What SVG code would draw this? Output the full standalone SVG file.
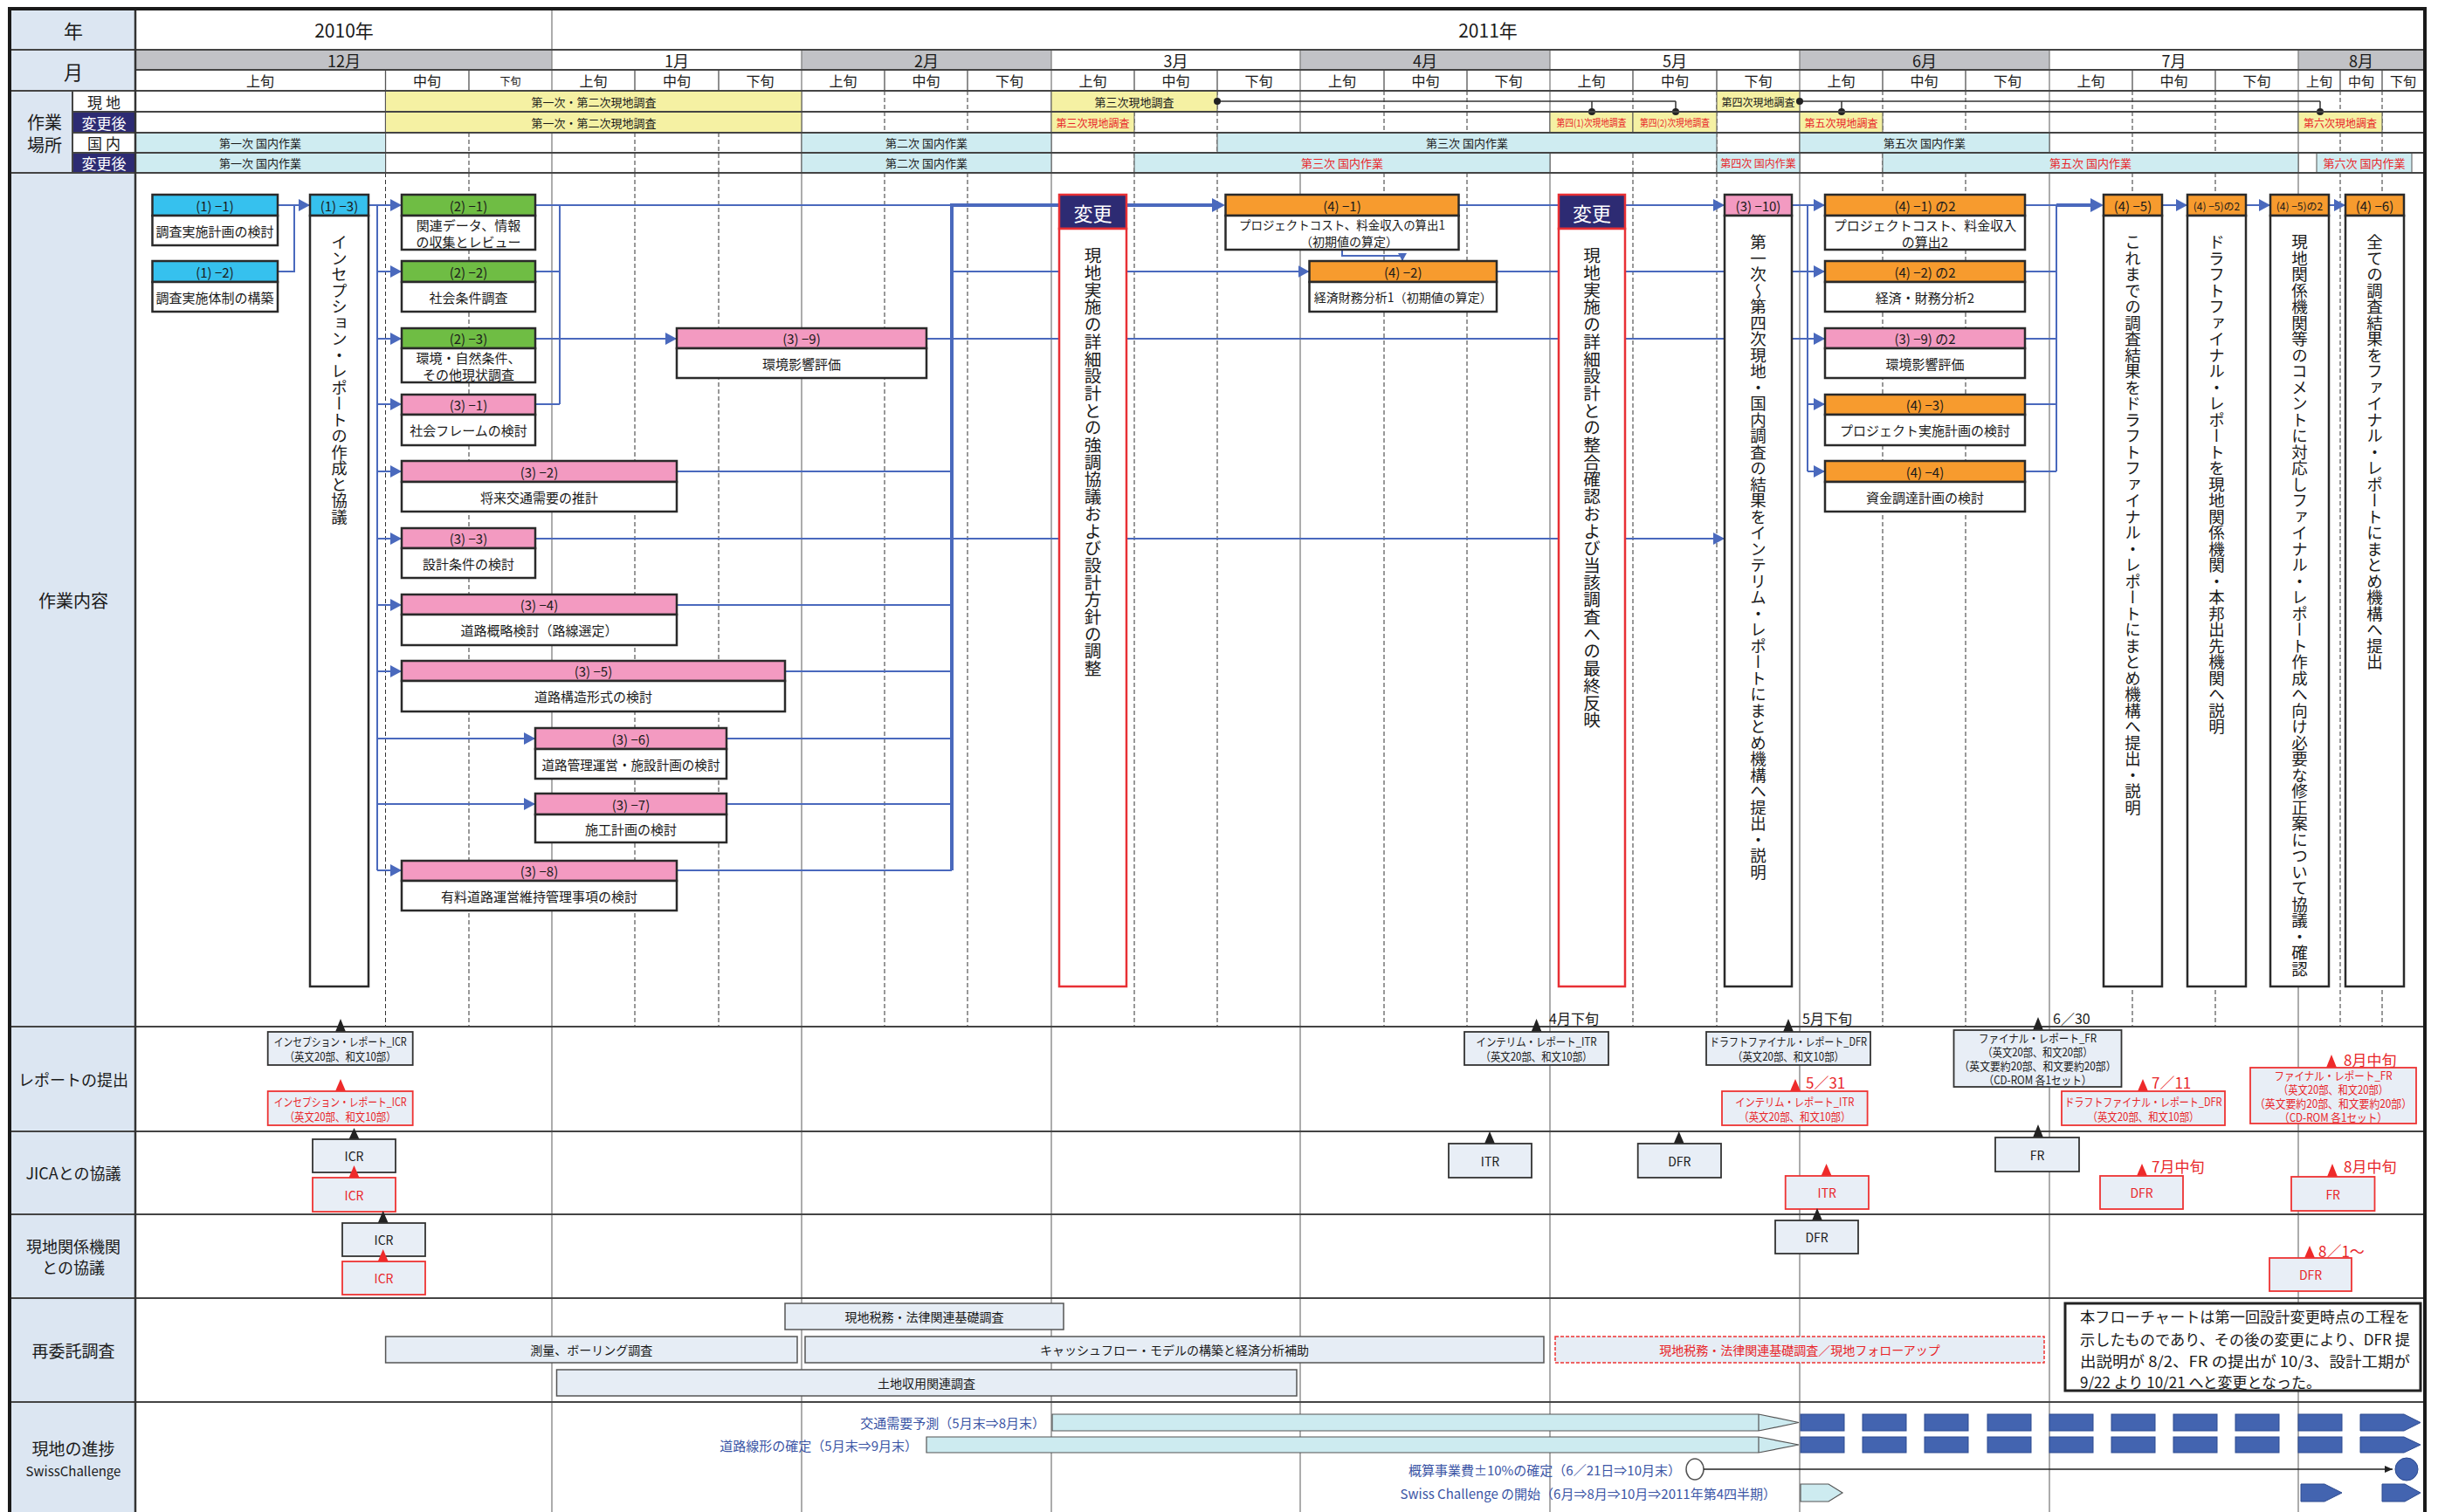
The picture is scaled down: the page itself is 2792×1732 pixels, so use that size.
<svg xmlns="http://www.w3.org/2000/svg" width="2792" height="1732" viewBox="0 0 2792 1732">
<defs>
<style>
text{font-family:"Noto Sans CJK JP","Noto Sans CJK SC","Noto Sans",sans-serif;fill:#1a1a1a;dominant-baseline:central;text-anchor:middle;font-size:15px}
.vt{writing-mode:vertical-rl;text-anchor:start;font-size:18.5px}
.vc{writing-mode:vertical-rl;text-anchor:start;font-size:19.7px}
.red{fill:#e8262a}
.blu{fill:#3b55a5}
.wt{fill:#fff}
.st{text-anchor:start}
.en{text-anchor:end}
.f11{font-size:11px}.f12{font-size:12px}.f13{font-size:13px}.f14{font-size:14px}.f16{font-size:16px}.f17{font-size:17px}.f18{font-size:18px}.f19{font-size:19px}.f20{font-size:20px}.f21{font-size:21px}.f22{font-size:22px}
.bx{stroke:#2a2a2a;stroke-width:2.5}
.cy{fill:#36c1ee}.gr{fill:#6fbd44}.pk{fill:#f39ac1}.or{fill:#f79b2e}.nv{fill:#2d2b73}.wb{fill:#fff}
.rb{stroke:#e83035;stroke-width:2.5}
.ln{fill:none;stroke:#4a69bd;stroke-width:2}
.lt{fill:none;stroke:#4a69bd;stroke-width:4}
.gm{stroke:#808080;stroke-width:1.3}
.gs{stroke:#555;stroke-width:1.3}
.gd{stroke:#333;stroke-width:1;stroke-dasharray:5 3}
.hl{stroke:#444;stroke-width:2}
.ye{fill:#f5f1a3;stroke:#555;stroke-width:1}
.ce{fill:#cfecf1;stroke:#555;stroke-width:1}
.rp{fill:#e8eef6;stroke:#333;stroke-width:1.8}
.rr{fill:#e8eef6;stroke:#ee3333;stroke-width:1.8}
.tb{fill:#222}.tr{fill:#ee2a2a}
.sb{fill:#e6edf5;stroke:#555;stroke-width:1.5}
.sr{fill:#e6edf5;stroke:#ee3333;stroke-width:1.5;stroke-dasharray:4 2}
.bar{fill:#cdebf0;stroke:#555;stroke-width:1.2}
.blk{fill:#4364b0;stroke:#2c4a90;stroke-width:1}
</style>
<marker id="ar" markerUnits="userSpaceOnUse" markerWidth="14" markerHeight="14" refX="13" refY="7" orient="auto" viewBox="0 0 14 14"><path d="M0,0 L13,7 L0,14 z" fill="#4a69bd"/></marker>
<marker id="art" markerUnits="userSpaceOnUse" markerWidth="16" markerHeight="16" refX="11" refY="8" orient="auto" viewBox="0 0 16 16"><path d="M0,0 L15,8 L0,16 z" fill="#4a69bd"/></marker>
<marker id="ars" markerUnits="userSpaceOnUse" markerWidth="10" markerHeight="10" refX="9" refY="5" orient="auto" viewBox="0 0 10 10"><path d="M0,0 L9,5 L0,10 z" fill="#4a69bd"/></marker>
<marker id="ark" markerUnits="userSpaceOnUse" markerWidth="10" markerHeight="10" refX="9" refY="5" orient="auto" viewBox="0 0 10 10"><path d="M0,1 L9,5 L0,9 z" fill="#222"/></marker>
</defs>

<g id="grid">
<rect x="0" y="0" width="2792" height="1732" fill="#fff"/>
<rect x="13" y="10" width="142" height="1722" fill="#dce6f2"/>
<rect x="83" y="104" width="72" height="24" fill="#fff"/>
<rect x="83" y="128" width="72" height="24" fill="#2d2b73"/>
<rect x="83" y="152" width="72" height="23" fill="#fff"/>
<rect x="83" y="175" width="72" height="23" fill="#2d2b73"/>
<g fill="#c1c2c6">
<rect x="155" y="57" width="477" height="23"/><rect x="918" y="57" width="286" height="23"/><rect x="1489" y="57" width="286" height="23"/><rect x="2061" y="57" width="286" height="23"/><rect x="2632" y="57" width="144" height="23"/>
</g>
<g class="gd">
<path d="M537,104V198M727,104V198M823,104V198M1013,104V198M1108,104V198M1299,104V198M1394,104V198M1585,104V198M1680,104V198M1870,104V198M1966,104V198M2156,104V198M2251,104V198M2442,104V198M2537,104V198M2680,104V198M2728,104V198"/>
<path d="M441.5,198V1176M537,198V1176M727,198V1176M823,198V1176M1013,198V1176M1108,198V1176M1299,198V1176M1394,198V1176M1585,198V1176M1680,198V1176M1870,198V1176M1966,198V1176M2156,198V1176M2251,198V1176M2442,198V1176M2537,198V1176M2680,198V1176M2728,198V1176"/>
</g>
<path class="gm" d="M918,57V1732M1204,57V1732M1489,57V1732M1775,57V1732M2061,57V1732M2347,57V1732M2632,57V1732M632,10V1732"/>
<path class="gs" d="M441.5,80V104M537,80V104M727,80V104M823,80V104M1013,80V104M1108,80V104M1299,80V104M1394,80V104M1585,80V104M1680,80V104M1870,80V104M1966,80V104M2156,80V104M2251,80V104M2442,80V104M2537,80V104M2680,80V104M2728,80V104M441.5,104V198"/>
<rect class="ye" x="441.5" y="104" width="476.5" height="24"/>
<rect class="ye" x="1204" y="104" width="190" height="24"/>
<rect class="ye" x="1966" y="104" width="95" height="24"/>
<rect class="ye" x="441.5" y="128" width="476.5" height="24"/>
<rect class="ye" x="1204" y="128" width="95" height="24"/>
<rect class="ye" x="1775" y="128" width="95" height="24"/>
<rect class="ye" x="1870" y="128" width="96" height="24"/>
<rect class="ye" x="2061" y="128" width="95" height="24"/>
<rect class="ye" x="2632" y="128" width="96" height="24"/>
<rect class="ce" x="155" y="152" width="286.5" height="23"/>
<rect class="ce" x="918" y="152" width="286" height="23"/>
<rect class="ce" x="1394" y="152" width="572" height="23"/>
<rect class="ce" x="2061" y="152" width="286" height="23"/>
<rect class="ce" x="155" y="175" width="286.5" height="23"/>
<rect class="ce" x="918" y="175" width="286" height="23"/>
<rect class="ce" x="1299" y="175" width="476" height="23"/>
<rect class="ce" x="1966" y="175" width="95" height="23"/>
<rect class="ce" x="2156" y="175" width="476" height="23"/>
<rect class="ce" x="2653" y="175" width="109" height="23"/>
<g stroke="#333" stroke-width="1.5" fill="none">
<path d="M1394,116H1919M1823,116V128M1919,116V128M2061,116H2657M2109,116V128M2657,116V128"/>
</g>
<g fill="#222"><circle cx="1394" cy="116" r="4"/><circle cx="1823" cy="128" r="4"/><circle cx="1919" cy="128" r="4"/><circle cx="2061" cy="116" r="4"/><circle cx="2109" cy="128" r="4"/><circle cx="2657" cy="128" r="4"/></g>
<path class="hl" d="M13,57H2776M155,80H2776M13,104H2776M83,128H2776M83,152H2776M83,175H2776M13,198H2776M13,1176H2776M13,1296H2776M13,1391H2776M13,1487H2776M13,1606H2776M83,104V198"/>
<path stroke="#333" stroke-width="2.5" d="M155,10V1732"/>
<path stroke="#1a1a1a" stroke-width="4" fill="none" d="M11,1732V10H2777V1732"/>
<text class="f22" x="84" y="33.5">年</text>
<text class="f22" x="84" y="80.5">月</text>
<text class="f20" x="51" y="139">作業</text>
<text class="f20" x="51" y="165">場所</text>
<text class="f17" x="119" y="116">現 地</text>
<text class="f17 wt" x="119" y="140">変更後</text>
<text class="f17" x="119" y="163.5">国 内</text>
<text class="f17 wt" x="119" y="186.5">変更後</text>
<text class="f21" x="394" y="33.5">2010年</text>
<text class="f21" x="1704" y="33.5">2011年</text>
<g class="f18">
<text class="f18" x="394" y="68.5">12月</text><text class="f18" x="775" y="68.5">1月</text><text class="f18" x="1061" y="68.5">2月</text><text class="f18" x="1346.5" y="68.5">3月</text><text class="f18" x="1632" y="68.5">4月</text><text class="f18" x="1918" y="68.5">5月</text><text class="f18" x="2204" y="68.5">6月</text><text class="f18" x="2489.5" y="68.5">7月</text><text class="f18" x="2704" y="68.5">8月</text>
</g>
<text class="f16" x="298" y="92">上旬</text><text class="f16" x="489" y="92">中旬</text><text class="f12" x="584.5" y="92">下旬</text>
<text class="f16" x="679.5" y="92">上旬</text><text class="f16" x="775" y="92">中旬</text><text class="f16" x="870.5" y="92">下旬</text>
<text class="f16" x="965.5" y="92">上旬</text><text class="f16" x="1060.5" y="92">中旬</text><text class="f16" x="1156" y="92">下旬</text>
<text class="f16" x="1251.5" y="92">上旬</text><text class="f16" x="1346.5" y="92">中旬</text><text class="f16" x="1441.5" y="92">下旬</text>
<text class="f16" x="1537" y="92">上旬</text><text class="f16" x="1632.5" y="92">中旬</text><text class="f16" x="1727.5" y="92">下旬</text>
<text class="f16" x="1822.5" y="92">上旬</text><text class="f16" x="1918" y="92">中旬</text><text class="f16" x="2013.5" y="92">下旬</text>
<text class="f16" x="2108.5" y="92">上旬</text><text class="f16" x="2203.5" y="92">中旬</text><text class="f16" x="2299" y="92">下旬</text>
<text class="f16" x="2394.5" y="92">上旬</text><text class="f16" x="2489.5" y="92">中旬</text><text class="f16" x="2584.5" y="92">下旬</text>
<text x="2656" y="92">上旬</text><text x="2704" y="92">中旬</text><text x="2752" y="92">下旬</text>
<text class="f13" x="680" y="116">第一次・第二次現地調査</text>
<text class="f13" x="1299" y="116">第三次現地調査</text>
<text class="f12" x="2013.5" y="116">第四次現地調査</text>
<text class="f13" x="680" y="140">第一次・第二次現地調査</text>
<text class="f12 red" x="1251.5" y="140">第三次現地調査</text>
<text class="f11 red" x="1822.5" y="140" textLength="80" lengthAdjust="spacingAndGlyphs">第四(1)次現地調査</text>
<text class="f11 red" x="1918" y="140" textLength="80" lengthAdjust="spacingAndGlyphs">第四(2)次現地調査</text>
<text class="f12 red" x="2108.5" y="140">第五次現地調査</text>
<text class="f12 red" x="2680" y="140">第六次現地調査</text>
<text class="f13" x="298" y="163.5">第一次 国内作業</text>
<text class="f13" x="1061" y="163.5">第二次 国内作業</text>
<text class="f13" x="1680" y="163.5">第三次 国内作業</text>
<text class="f13" x="2204" y="163.5">第五次 国内作業</text>
<text class="f13" x="298" y="186.5">第一次 国内作業</text>
<text class="f13" x="1061" y="186.5">第二次 国内作業</text>
<text class="f13 red" x="1537" y="186.5">第三次 国内作業</text>
<text class="f12 red" x="2013.5" y="186.5">第四次 国内作業</text>
<text class="f13 red" x="2394" y="186.5">第五次 国内作業</text>
<text class="f13 red" x="2707.5" y="186.5">第六次 国内作業</text>
<text class="f20" x="84" y="687">作業内容</text>
<text class="f18" x="84" y="1236">レポートの提出</text>
<text class="f18" x="84" y="1343">JICAとの協議</text>
<text class="f18" x="84" y="1427">現地関係機関</text>
<text class="f18" x="84" y="1451">との協議</text>
<text class="f19" x="84" y="1546">再委託調査</text>
<text class="f19" x="84" y="1658">現地の進捗</text>
<text x="84" y="1684">SwissChallenge</text>
</g>

<g id="connectors">
<path class="ln" d="M318,311H337V235"/>
<path class="ln" d="M318,235H355" marker-end="url(#ar)"/>
<path class="ln" d="M422,235H460" marker-end="url(#ar)"/>
<path class="ln" stroke-width="2.5" d="M432,235V997"/>
<path class="ln" d="M432,311H460" marker-end="url(#ar)"/>
<path class="ln" d="M432,388H460" marker-end="url(#ar)"/>
<path class="ln" d="M432,463H460" marker-end="url(#ar)"/>
<path class="ln" d="M432,540H460" marker-end="url(#ar)"/>
<path class="ln" d="M432,617H460" marker-end="url(#ar)"/>
<path class="ln" d="M432,693H460" marker-end="url(#ar)"/>
<path class="ln" d="M432,769H460" marker-end="url(#ar)"/>
<path class="ln" d="M432,846H613" marker-end="url(#ar)"/>
<path class="ln" d="M432,921H613" marker-end="url(#ar)"/>
<path class="ln" d="M432,997H460" marker-end="url(#ar)"/>
<path class="ln" d="M613,311H641M613,463H641M641,235V463"/>
<path class="ln" d="M613,235H1090"/>
<path class="ln" d="M613,388H775" marker-end="url(#ar)"/>
<path class="ln" d="M775,540H1090M775,693H1090M899,769H1090M832,846H1090M832,921H1090M775,997H1090"/>
<path class="lt" d="M1090,997V235H1399" marker-end="url(#art)"/>
<path class="ln" d="M1090,311H1499.5" marker-end="url(#ar)"/>
<path class="ln" d="M613,617H1975" marker-end="url(#ar)"/>
<path class="ln" d="M1061,388H2090" marker-end="url(#ar)"/>
<path class="ln" d="M1714,311H2090" marker-end="url(#ar)"/>
<path class="ln" d="M1670,235H1975" marker-end="url(#ar)"/>
<path class="ln" d="M2052,235H2090" marker-end="url(#ar)"/>
<path class="ln" d="M2070,235V540"/>
<path class="ln" d="M2070,463H2090" marker-end="url(#ar)"/>
<path class="ln" d="M2070,540H2090" marker-end="url(#ar)"/>
<path class="ln" stroke-width="1.5" d="M1537,286V293H1606V299" marker-end="url(#ars)"/>
<path class="ln" d="M2319,235H2355M2319,311H2355M2319,388H2355M2319,463H2355M2319,540H2355M2355,235V540"/>
<path class="lt" d="M2355,235H2405" marker-end="url(#art)"/>
<path class="ln" d="M2476,235H2505" marker-end="url(#ar)"/>
<path class="ln" d="M2572,235H2600" marker-end="url(#ar)"/>
<path class="ln" d="M2667,235H2686" marker-end="url(#ar)"/>
</g>

<g id="n11"><rect class="cy bx" x="174.5" y="223" width="143.5" height="24"/><rect class="wb bx" x="174.5" y="247" width="143.5" height="34"/><text x="246" y="235">(1) −1)</text><text x="246" y="264">調査実施計画の検討</text></g>
<g id="n12"><rect class="cy bx" x="174.5" y="299" width="143.5" height="24"/><rect class="wb bx" x="174.5" y="323" width="143.5" height="34"/><text x="246" y="311">(1) −2)</text><text x="246" y="340">調査実施体制の構築</text></g>
<g id="n13"><rect class="cy bx" x="355" y="223" width="67" height="24"/><rect class="wb bx" x="355" y="247" width="67" height="883"/><text x="388.5" y="235">(1) −3)</text><text class="vt" x="388.5" y="268">インセプション・レポートの作成と協議</text></g>
<g id="n21"><rect class="gr bx" x="460" y="223" width="153" height="24"/><rect class="wb bx" x="460" y="247" width="153" height="39"/><text x="536.5" y="235">(2) −1)</text><text x="536.5" y="257">関連データ、情報</text><text x="536.5" y="276">の収集とレビュー</text></g>
<g id="n22"><rect class="gr bx" x="460" y="299" width="153" height="24"/><rect class="wb bx" x="460" y="323" width="153" height="34"/><text x="536.5" y="311">(2) −2)</text><text x="536.5" y="340">社会条件調査</text></g>
<g id="n23"><rect class="gr bx" x="460" y="376" width="153" height="23"/><rect class="wb bx" x="460" y="399" width="153" height="39"/><text x="536.5" y="387.5">(2) −3)</text><text x="536.5" y="409">環境・自然条件、</text><text x="536.5" y="428">その他現状調査</text></g>
<g id="n31"><rect class="pk bx" x="460" y="452" width="153" height="23"/><rect class="wb bx" x="460" y="475" width="153" height="35"/><text x="536.5" y="463.5">(3) −1)</text><text x="536.5" y="492.5">社会フレームの検討</text></g>
<g id="n32"><rect class="pk bx" x="460" y="528" width="315" height="24"/><rect class="wb bx" x="460" y="552" width="315" height="34"/><text x="617.5" y="540">(3) −2)</text><text x="617.5" y="569">将来交通需要の推計</text></g>
<g id="n33"><rect class="pk bx" x="460" y="605" width="153" height="23"/><rect class="wb bx" x="460" y="628" width="153" height="34"/><text x="536.5" y="616.5">(3) −3)</text><text x="536.5" y="645">設計条件の検討</text></g>
<g id="n34"><rect class="pk bx" x="460" y="681" width="315" height="23"/><rect class="wb bx" x="460" y="704" width="315" height="35"/><text x="617.5" y="692.5">(3) −4)</text><text x="617.5" y="721.5">道路概略検討（路線選定）</text></g>
<g id="n35"><rect class="pk bx" x="460" y="757" width="439" height="23"/><rect class="wb bx" x="460" y="780" width="439" height="35"/><text x="679.5" y="768.5">(3) −5)</text><text x="679.5" y="797.5">道路構造形式の検討</text></g>
<g id="n36"><rect class="pk bx" x="613" y="834" width="219" height="24"/><rect class="wb bx" x="613" y="858" width="219" height="34"/><text x="722.5" y="846">(3) −6)</text><text x="722.5" y="875" textLength="204" lengthAdjust="spacingAndGlyphs">道路管理運営・施設計画の検討</text></g>
<g id="n37"><rect class="pk bx" x="613" y="909" width="219" height="24"/><rect class="wb bx" x="613" y="933" width="219" height="32"/><text x="722.5" y="921">(3) −7)</text><text x="722.5" y="949">施工計画の検討</text></g>
<g id="n38"><rect class="pk bx" x="460" y="986" width="315" height="23"/><rect class="wb bx" x="460" y="1009" width="315" height="34"/><text x="617.5" y="997.5">(3) −8)</text><text x="617.5" y="1026">有料道路運営維持管理事項の検討</text></g>
<g id="n39"><rect class="pk bx" x="775" y="376" width="286" height="23"/><rect class="wb bx" x="775" y="399" width="286" height="34"/><text x="918" y="387.5">(3) −9)</text><text x="918" y="416">環境影響評価</text></g>
<g id="ch1"><rect class="nv rb" x="1213" y="223" width="77" height="39"/><rect class="wb rb" x="1213" y="262" width="77" height="868"/><text class="f22 wt" x="1251.5" y="242.5">変更</text><text class="vc" x="1251.5" y="283">現地実施の詳細設計との強調協議および設計方針の調整</text></g>
<g id="n41"><rect class="or bx" x="1403.5" y="223" width="267" height="24"/><rect class="wb bx" x="1403.5" y="247" width="267" height="39"/><text x="1537" y="235">(4) −1)</text><text class="f14" x="1537" y="257" textLength="236" lengthAdjust="spacingAndGlyphs">プロジェクトコスト、料金収入の算出1</text><text class="f14" x="1545" y="276">（初期値の算定）</text></g>
<g id="n42"><rect class="or bx" x="1499.5" y="299" width="214.5" height="24"/><rect class="wb bx" x="1499.5" y="323" width="214.5" height="34"/><text x="1606.75" y="311">(4) −2)</text><text class="f14" x="1606.75" y="340" textLength="204" lengthAdjust="spacingAndGlyphs">経済財務分析1（初期値の算定）</text></g>
<g id="ch2"><rect class="nv rb" x="1785" y="223" width="76" height="39"/><rect class="wb rb" x="1785" y="262" width="76" height="868"/><text class="f22 wt" x="1823" y="242.5">変更</text><text class="vc" x="1823" y="283">現地実施の詳細設計との整合確認および当該調査への最終反映</text></g>
<g id="n310"><rect class="pk bx" x="1975" y="223" width="77" height="24"/><rect class="wb bx" x="1975" y="247" width="77" height="883"/><text x="2013.5" y="235">(3) −10)</text><text class="vt" x="2013.5" y="268">第一次～第四次現地・国内調査の結果をインテリム・レポートにまとめ機構へ提出・説明</text></g>
<g id="n412"><rect class="or bx" x="2090" y="223" width="229" height="24"/><rect class="wb bx" x="2090" y="247" width="229" height="39"/><text x="2204.5" y="235">(4) −1) の2</text><text x="2204.5" y="257">プロジェクトコスト、料金収入</text><text x="2204.5" y="276">の算出2</text></g>
<g id="n422"><rect class="or bx" x="2090" y="299" width="229" height="24"/><rect class="wb bx" x="2090" y="323" width="229" height="34"/><text x="2204.5" y="311">(4) −2) の2</text><text x="2204.5" y="340">経済・財務分析2</text></g>
<g id="n392"><rect class="pk bx" x="2090" y="376" width="229" height="23"/><rect class="wb bx" x="2090" y="399" width="229" height="34"/><text x="2204.5" y="387.5">(3) −9) の2</text><text x="2204.5" y="416">環境影響評価</text></g>
<g id="n43"><rect class="or bx" x="2090" y="452" width="229" height="23"/><rect class="wb bx" x="2090" y="475" width="229" height="35"/><text x="2204.5" y="463.5">(4) −3)</text><text x="2204.5" y="492.5">プロジェクト実施計画の検討</text></g>
<g id="n44"><rect class="or bx" x="2090" y="528" width="229" height="24"/><rect class="wb bx" x="2090" y="552" width="229" height="34"/><text x="2204.5" y="540">(4) −4)</text><text x="2204.5" y="569">資金調達計画の検討</text></g>
<g id="n45"><rect class="or bx" x="2409" y="223" width="67" height="24"/><rect class="wb bx" x="2409" y="247" width="67" height="883"/><text x="2442.5" y="235">(4) −5)</text><text class="vt" x="2442.5" y="268">これまでの調査結果をドラフトファイナル・レポートにまとめ機構へ提出・説明</text></g>
<g id="n452"><rect class="or bx" x="2505" y="223" width="67" height="24"/><rect class="wb bx" x="2505" y="247" width="67" height="883"/><text class="f12" x="2538.5" y="235">(4) −5)の2</text><text class="vt" x="2538.5" y="268">ドラフトファイナル・レポートを現地関係機関・本邦出先機関へ説明</text></g>
<g id="n452b"><rect class="or bx" x="2600" y="223" width="67" height="24"/><rect class="wb bx" x="2600" y="247" width="67" height="883"/><text class="f12" x="2633.5" y="235">(4) −5)の2</text><text class="vt" x="2633.5" y="268">現地関係機関等のコメントに対応しファイナル・レポート作成へ向け必要な修正案について協議・確認</text></g>
<g id="n46"><rect class="or bx" x="2686" y="223" width="67" height="24"/><rect class="wb bx" x="2686" y="247" width="67" height="883"/><text x="2719.5" y="235">(4) −6)</text><text class="vt" x="2719.5" y="268">全ての調査結果をファイナル・レポートにまとめ機構へ提出</text></g>

<g id="reports">
<polygon class="tb" points="390,1167 384,1182 396,1182"/>
<rect class="rp" x="306.7" y="1182" width="166" height="38"/>
<text class="f13" x="389.7" y="1192" textLength="152" lengthAdjust="spacingAndGlyphs">インセプション・レポート_ICR</text>
<text class="f13" x="389.7" y="1209" textLength="128" lengthAdjust="spacingAndGlyphs">（英文20部、和文10部）</text>
<polygon class="tr" points="390,1236 384,1250 396,1250"/>
<rect class="rr" x="306.7" y="1250" width="166" height="39"/>
<text class="f13 red" x="389.7" y="1261" textLength="152" lengthAdjust="spacingAndGlyphs">インセプション・レポート_ICR</text>
<text class="f13 red" x="389.7" y="1278" textLength="128" lengthAdjust="spacingAndGlyphs">（英文20部、和文10部）</text>

<text class="f16 st" x="1774" y="1166">4月下旬</text>
<polygon class="tb" points="1759.6,1167 1753.6,1182 1765.6,1182"/>
<rect class="rp" x="1677" y="1182" width="165" height="38"/>
<text class="f13" x="1759.5" y="1192" textLength="138" lengthAdjust="spacingAndGlyphs">インテリム・レポート_ITR</text>
<text class="f13" x="1759.5" y="1209" textLength="128" lengthAdjust="spacingAndGlyphs">（英文20部、和文10部）</text>
<text class="f16 st" x="2064" y="1166">5月下旬</text>
<polygon class="tb" points="2048,1167 2042,1182 2054,1182"/>
<rect class="rp" x="1954" y="1182" width="188" height="38"/>
<text class="f13" x="2048" y="1192" textLength="180" lengthAdjust="spacingAndGlyphs">ドラフトファイナル・レポート_DFR</text>
<text class="f13" x="2048" y="1209" textLength="128" lengthAdjust="spacingAndGlyphs">（英文20部、和文10部）</text>
<text class="f16 st" x="2351" y="1166">6／30</text>
<polygon class="tb" points="2334,1165 2328,1180 2340,1180"/>
<rect class="rp" x="2237.5" y="1180" width="192" height="65"/>
<text class="f13" x="2333.5" y="1188" textLength="135" lengthAdjust="spacingAndGlyphs">ファイナル・レポート_FR</text>
<text class="f13" x="2333.5" y="1204" textLength="126" lengthAdjust="spacingAndGlyphs">（英文20部、和文20部）</text>
<text class="f13" x="2333.5" y="1220" textLength="180" lengthAdjust="spacingAndGlyphs">（英文要約20部、和文要約20部）</text>
<text class="f13" x="2333.5" y="1236" textLength="124" lengthAdjust="spacingAndGlyphs">（CD-ROM 各1セット）</text>
<text class="f17 red st" x="2068" y="1239">5／31</text>
<polygon class="tr" points="2056,1236 2050,1250 2062,1250"/>
<rect class="rr" x="1972" y="1250" width="166.6" height="39"/>
<text class="f13 red" x="2055.3" y="1261" textLength="136" lengthAdjust="spacingAndGlyphs">インテリム・レポート_ITR</text>
<text class="f13 red" x="2055.3" y="1278" textLength="128" lengthAdjust="spacingAndGlyphs">（英文20部、和文10部）</text>
<text class="f17 red st" x="2464" y="1239">7／11</text>
<polygon class="tr" points="2454,1236 2448,1250 2460,1250"/>
<rect class="rr" x="2361" y="1250" width="187" height="39"/>
<text class="f13 red" x="2454.5" y="1261" textLength="180" lengthAdjust="spacingAndGlyphs">ドラフトファイナル・レポート_DFR</text>
<text class="f13 red" x="2454.5" y="1278" textLength="128" lengthAdjust="spacingAndGlyphs">（英文20部、和文10部）</text>
<text class="f17 red st" x="2684" y="1213">8月中旬</text>
<polygon class="tr" points="2670,1208 2664,1223 2676,1223"/>
<rect class="rr" x="2577" y="1223" width="190" height="64"/>
<text class="f13 red" x="2672" y="1231" textLength="135" lengthAdjust="spacingAndGlyphs">ファイナル・レポート_FR</text>
<text class="f13 red" x="2672" y="1247" textLength="126" lengthAdjust="spacingAndGlyphs">（英文20部、和文20部）</text>
<text class="f13 red" x="2672" y="1263" textLength="180" lengthAdjust="spacingAndGlyphs">（英文要約20部、和文要約20部）</text>
<text class="f13 red" x="2672" y="1279" textLength="124" lengthAdjust="spacingAndGlyphs">（CD-ROM 各1セット）</text>
</g>

<g id="jica">
<polygon class="tb" points="405.5,1292 399.5,1305 411.5,1305"/>
<rect class="rp" x="358" y="1305" width="95" height="38"/><text class="f14" x="405.5" y="1324">ICR</text>
<rect class="rr" x="358" y="1349" width="95" height="39"/><text class="f14 red" x="405.5" y="1368.5">ICR</text>
<polygon class="tr" points="405.5,1335 399.5,1349 411.5,1349"/>
<polygon class="tb" points="1706,1296 1700,1310 1712,1310"/>
<rect class="rp" x="1659" y="1310" width="95" height="39"/><text class="f14" x="1706.5" y="1329.5">ITR</text>
<polygon class="tb" points="1922.7,1296 1916.7,1310 1928.7,1310"/>
<rect class="rp" x="1875.7" y="1310" width="95.3" height="39"/><text class="f14" x="1923.3" y="1329.5">DFR</text>
<polygon class="tb" points="2334,1288 2328,1303 2340,1303"/>
<rect class="rp" x="2285" y="1303" width="96" height="39"/><text class="f14" x="2333" y="1322.5">FR</text>
<polygon class="tr" points="2091.6,1333 2085.6,1347 2097.6,1347"/>
<rect class="rr" x="2044.7" y="1347" width="95.3" height="38"/><text class="f14 red" x="2092.3" y="1366">ITR</text>
<text class="f17 red st" x="2464" y="1335">7月中旬</text>
<polygon class="tr" points="2453,1333 2447,1347 2459,1347"/>
<rect class="rr" x="2405" y="1347" width="95" height="38"/><text class="f14 red" x="2452.5" y="1366">DFR</text>
<text class="f17 red st" x="2684" y="1335">8月中旬</text>
<polygon class="tr" points="2671,1333 2665,1348 2677,1348"/>
<rect class="rr" x="2624" y="1348" width="95.5" height="39"/><text class="f14 red" x="2671.7" y="1367.5">FR</text>
</g>

<g id="local">
<polygon class="tb" points="438.7,1387 432.7,1401 444.7,1401"/>
<rect class="rp" x="392" y="1401" width="95" height="38"/><text class="f14" x="439.5" y="1420">ICR</text>
<rect class="rr" x="392" y="1445" width="95" height="38"/><text class="f14 red" x="439.5" y="1464">ICR</text>
<polygon class="tr" points="438.7,1431 432.7,1445 444.7,1445"/>
<polygon class="tb" points="2081,1384 2075,1398 2087,1398"/>
<rect class="rp" x="2033" y="1398" width="95" height="38"/><text class="f14" x="2080.5" y="1417">DFR</text>
<text class="f17 red st" x="2655" y="1432">8／1～</text>
<polygon class="tr" points="2645,1427 2639,1441 2651,1441"/>
<rect class="rr" x="2599" y="1441" width="94" height="38"/><text class="f14 red" x="2646" y="1460">DFR</text>
</g>

<g id="subcontract">
<rect class="sb" x="899" y="1493" width="319" height="30"/><text class="f14" x="1058.5" y="1508">現地税務・法律関連基礎調査</text>
<rect class="sb" x="441.6" y="1531" width="471.4" height="30"/><text class="f14" x="677.3" y="1546">測量、ボーリング調査</text>
<rect class="sb" x="922" y="1531" width="846" height="30"/><text class="f14" x="1345" y="1546">キャッシュフロー・モデルの構築と経済分析補助</text>
<rect class="sr" x="1781" y="1531" width="560" height="30"/><text class="f14 red" x="2061" y="1546">現地税務・法律関連基礎調査／現地フォローアップ</text>
<rect class="sb" x="637.5" y="1569" width="847.5" height="30"/><text class="f14" x="1061" y="1584">土地収用関連調査</text>
<rect x="2365" y="1493" width="407" height="100" fill="#fff" stroke="#222" stroke-width="3"/>
<text class="f17 st" x="2382" y="1507" textLength="378" lengthAdjust="spacingAndGlyphs">本フローチャートは第一回設計変更時点の工程を</text>
<text class="f17 st" x="2382" y="1533" textLength="378" lengthAdjust="spacingAndGlyphs">示したものであり、その後の変更により、DFR 提</text>
<text class="f17 st" x="2382" y="1558" textLength="378" lengthAdjust="spacingAndGlyphs">出説明が 8/2、FR の提出が 10/3、設計工期が</text>
<text class="f17 st" x="2382" y="1582">9/22 より 10/21 へと変更となった。</text>
</g>

<g id="progress">
<text class="blu en" x="1197" y="1629.5">交通需要予測（5月末⇒8月末）</text>
<path class="bar" d="M1205,1620H2014L2060,1629.5L2014,1639H1205Z M2014,1620V1639"/>
<text class="blu en" x="1051" y="1655">道路線形の確定（5月末⇒9月末）</text>
<path class="bar" d="M1061,1646H2014L2060,1655L2014,1664H1061Z M2014,1646V1664"/>
<g class="blk">
<rect x="2062" y="1620" width="50" height="19"/><rect x="2133" y="1620" width="50" height="19"/><rect x="2204" y="1620" width="50" height="19"/><rect x="2276" y="1620" width="50" height="19"/><rect x="2347" y="1620" width="50" height="19"/><rect x="2418" y="1620" width="50" height="19"/><rect x="2489" y="1620" width="50" height="19"/><rect x="2560" y="1620" width="50" height="19"/><rect x="2632" y="1620" width="50" height="19"/><path d="M2703,1620H2753L2772,1629.5L2753,1639H2703Z"/>
<rect x="2062" y="1646" width="50" height="18"/><rect x="2133" y="1646" width="50" height="18"/><rect x="2204" y="1646" width="50" height="18"/><rect x="2276" y="1646" width="50" height="18"/><rect x="2347" y="1646" width="50" height="18"/><rect x="2418" y="1646" width="50" height="18"/><rect x="2489" y="1646" width="50" height="18"/><rect x="2560" y="1646" width="50" height="18"/><rect x="2632" y="1646" width="50" height="18"/><path d="M2703,1646H2753L2772,1655L2753,1664H2703Z"/>
</g>
<text class="blu en" x="1925" y="1683">概算事業費±10%の確定（6／21日⇒10月末）</text>
<ellipse cx="1941" cy="1683" rx="10" ry="12" fill="#fff" stroke="#555" stroke-width="1.5"/>
<path d="M1951,1683H2740" stroke="#222" stroke-width="1.5" marker-end="url(#ark)"/>
<circle class="blk" cx="2756" cy="1683" r="13"/>
<text class="blu en" x="2034" y="1710">Swiss Challenge の開始（6月⇒8月⇒10月⇒2011年第4四半期）</text>
<path class="bar" d="M2062,1700H2094L2110,1710L2094,1720H2062Z"/>
<path class="blk" d="M2635,1700H2662L2682,1710L2662,1720H2635Z"/>
<path class="blk" d="M2728,1700H2754L2772,1710L2754,1720H2728Z"/>
</g>
</svg>
